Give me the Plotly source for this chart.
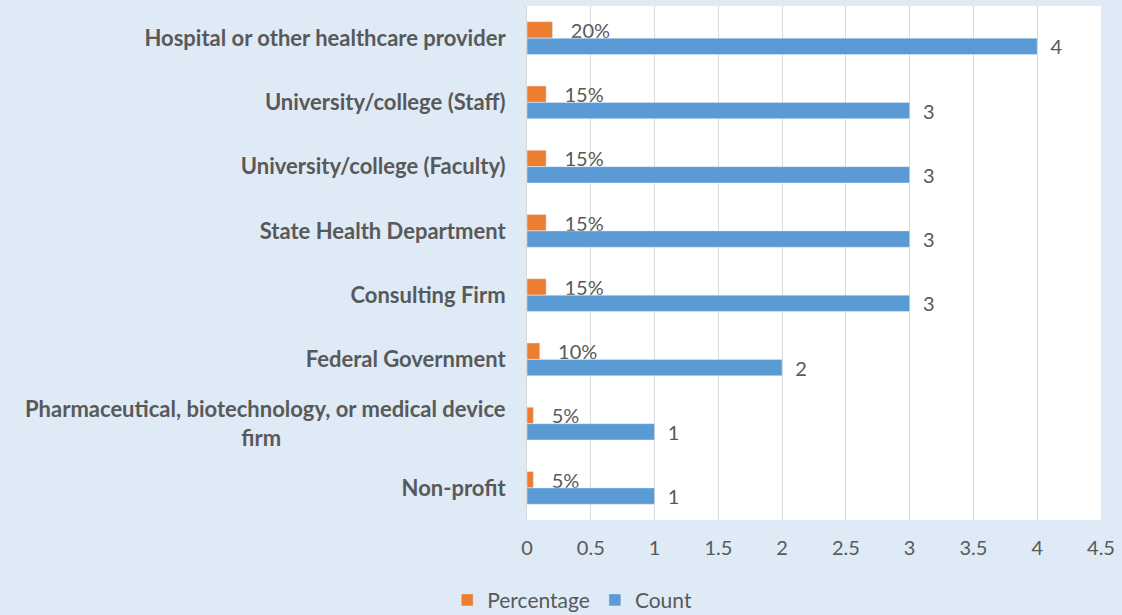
import plotly.graph_objects as go

NB = "\u00a0"

categories = [
    "Hospital or other healthcare provider",
    "University/college (Staff)",
    "University/college (Faculty)",
    "State Health Department",
    "Consulting Firm",
    "Federal Government",
    "Pharmaceutical, biotechnology, or medical device<br>firm" + NB * 42,
    "Non-profit",
]
percentage = [0.20, 0.15, 0.15, 0.15, 0.15, 0.10, 0.05, 0.05]
count = [4, 3, 3, 3, 3, 2, 1, 1]
x_ticks = [0, 0.5, 1, 1.5, 2, 2.5, 3, 3.5, 4, 4.5]

GREY = "#595959"
BG = "#DEEAF6"
FONT = "Lato, 'Open Sans', sans-serif"

fig = go.Figure()

# Percentage (oben), Count (unten)
fig.add_trace(go.Bar(
    y=categories, x=percentage, orientation="h", name="Percentage",
    marker_color="#ED7D31",
    texttemplate=NB * 3 + "%{x:.0%}", textposition="outside",
    textfont=dict(size=20, color=GREY, family=FONT),
    constraintext="none", cliponaxis=False,
    hoverinfo="x+y",
))
fig.add_trace(go.Bar(
    y=categories, x=count, orientation="h", name="Count",
    marker_color="#5B9BD5",
    texttemplate=NB * 2 + "%{x}", textposition="outside",
    textfont=dict(size=20, color=GREY, family=FONT),
    constraintext="none", cliponaxis=False,
    hoverinfo="x+y",
))

fig.update_layout(
    width=1122, height=615,
    barmode="group", bargap=0.49, bargroupgap=0,
    paper_bgcolor=BG, plot_bgcolor="white",
    margin=dict(l=527, r=21, t=6, b=95),
    font=dict(family=FONT, color=GREY, size=18),
    legend=dict(
        orientation="h", x=0.51, xanchor="center", xref="container",
        y=0.024, yanchor="middle", yref="container",
        font=dict(size=21, color=GREY),
        itemwidth=30, traceorder="normal",
    ),
    showlegend=True,
)

fig.update_xaxes(
    range=[0, 4.5], tickvals=x_ticks, ticktext=[f"{v:g}" for v in x_ticks],
    showgrid=True, gridcolor="#D9D9D9", gridwidth=1,
    zeroline=False, showline=False,
    ticks="", ticklabelstandoff=14,
    tickfont=dict(size=20, color=GREY),
)
fig.update_yaxes(
    categoryorder="array", categoryarray=categories, autorange="reversed",
    showgrid=False, zeroline=False,
    showline=True, linecolor="#D9D9D9", linewidth=1,
    ticks="", ticklabelstandoff=16,
    tickfont=dict(size=22, color=GREY, weight="bold"),
)

fig.write_html("out.html", config={"displayModeBar": False},
               post_script="document.body.style.margin='0';")
